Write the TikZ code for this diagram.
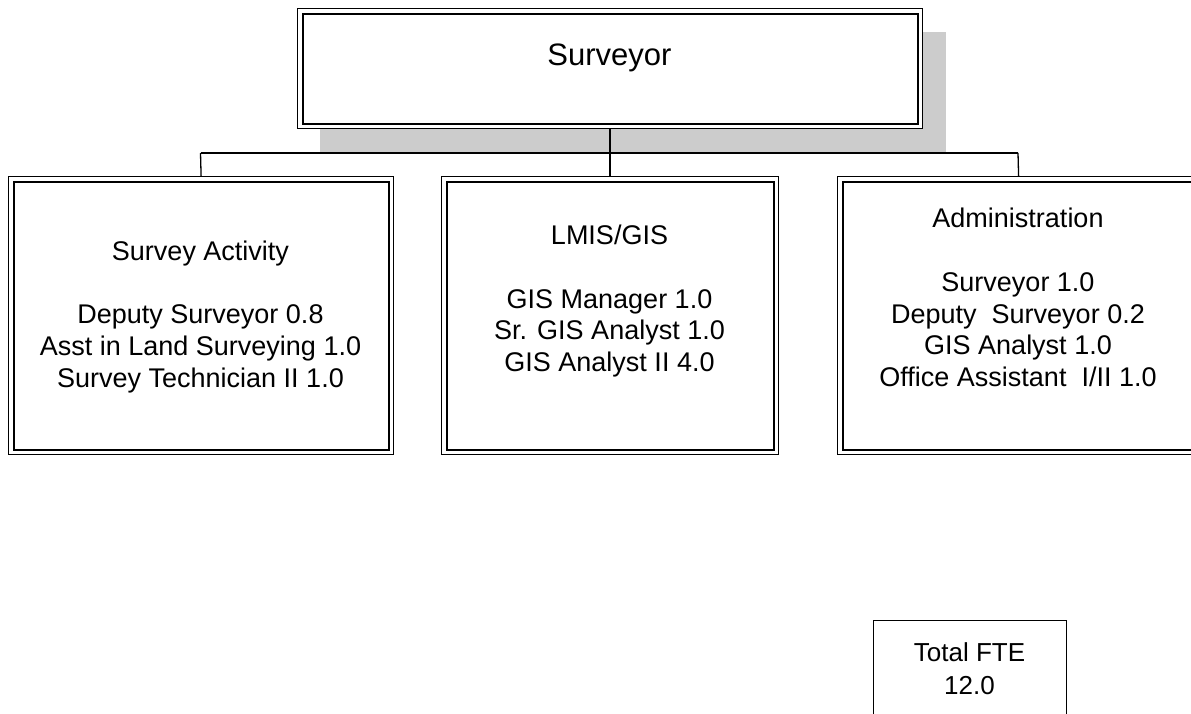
\documentclass[tikz,border=0pt]{standalone}
\usepackage{fontspec}
\setmainfont{Liberation Sans}
\newcommand\bigtxt{\fontsize{31}{36}\selectfont}
\newcommand\boxtxt{\fontsize{27}{31.8}\selectfont}
\definecolor{shadowgray}{HTML}{CCCCCC}
\tikzset{
  dblbox/.style={draw=black, line width=1.2pt, fill=white, inner sep=0pt, anchor=north west,
    path picture={\draw[line width=2pt]
      ([shift={(5pt,-5pt)}]path picture bounding box.north west) rectangle
      ([shift={(-5pt,5pt)}]path picture bounding box.south east);}},
  sglbox/.style={draw=black, line width=1.4pt, fill=white, inner sep=0pt, anchor=north west},
  conn/.style={draw=black, line width=1.3pt},
  lbl/.style={align=center, inner sep=0pt, font=\boxtxt},
}
\begin{document}
\begin{tikzpicture}[x=1pt,y=-1pt]
\useasboundingbox (0,0) rectangle (1191,713);
\fill[white] (0,0) rectangle (1191,713);
\clip (0,0) rectangle (1191,713);
% shadow of top box
\fill[shadowgray] (320,32) rectangle (946,152);
% top box
\node[dblbox, minimum width=625pt, minimum height=120pt] (top) at (297,8) {};
\node[inner sep=0pt, font=\bigtxt, anchor=base] (toptxt) at (609.5,65) {Surveyor};
% sub boxes
\node[dblbox, minimum width=385pt, minimum height=278pt] (left) at (8,176) {};
\node[dblbox, minimum width=337pt, minimum height=278pt] (mid) at (441,176) {};
\node[dblbox, minimum width=362pt, minimum height=278pt] (right) at (837,176) {};
% connectors
\coordinate (busL) at (200.5,153);
\coordinate (busR) at (1018,153);
\draw[conn] (top.south) -- (top.south |- busL);
\draw[conn] (busL) -- (busR);
\draw[conn] (busL) -- (left.north);
\draw[conn] (top.south |- busL) -- (mid.north);
\draw[conn] (busR) -- (right.north);
% texts
\node[lbl] (lefttxt) at (200.5,316.7) {Survey Activity\\[31.8pt]Deputy Surveyor 0.8\\Asst in Land Surveying 1.0\\Survey Technician II 1.0};
\node[lbl] (midtxt) at (609.5,301.2) {LMIS/GIS\\[31.8pt]GIS Manager 1.0\\Sr. GIS Analyst 1.0\\GIS Analyst II 4.0};
\node[lbl] (righttxt) at (1018,297.5) {Administration\\[31.8pt]Surveyor 1.0\\Deputy\ \ Surveyor 0.2\\GIS Analyst 1.0\\Office Assistant\ \ I/II 1.0};
% total box
\node[sglbox, minimum width=193pt, minimum height=130pt] (total) at (873,620) {};
\node[lbl, font=\fontsize{26}{33}\selectfont] (totaltxt) at (969.5,668.5) {Total FTE\\12.0};
\end{tikzpicture}
\end{document}
